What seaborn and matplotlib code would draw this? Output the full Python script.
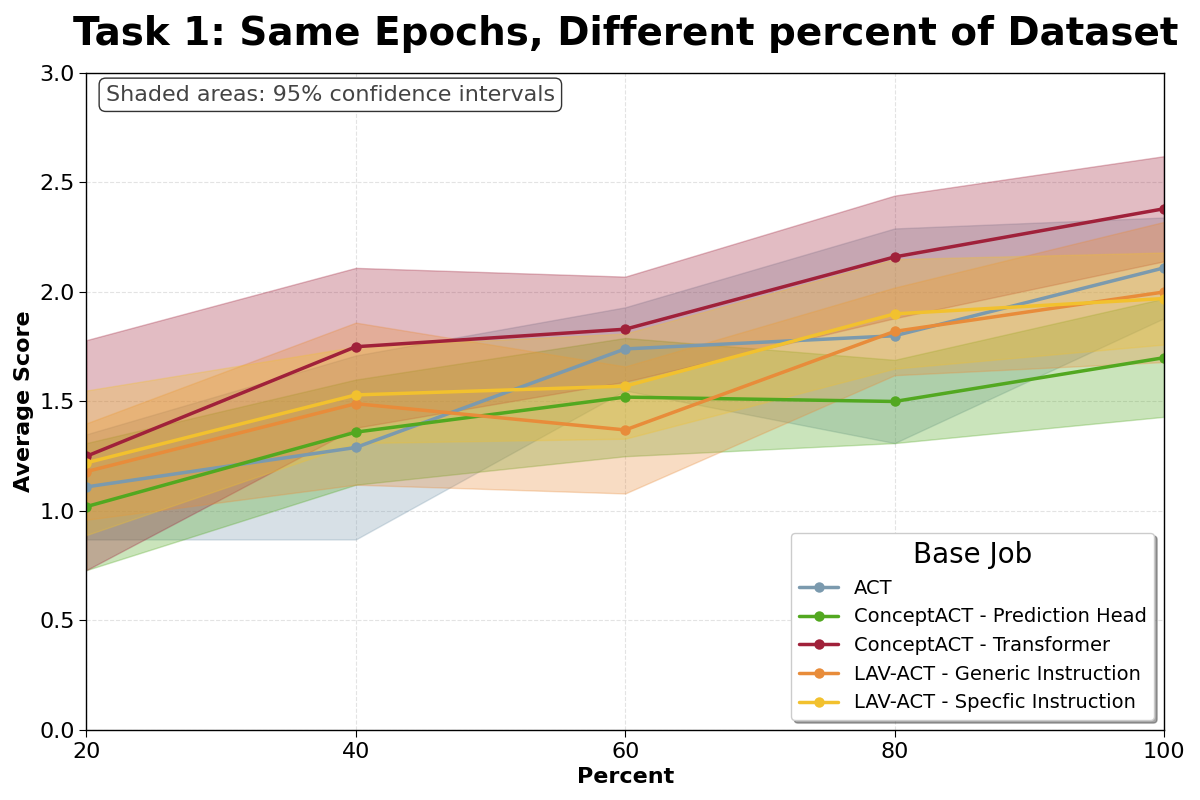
import pandas as pd
import seaborn as sns
import matplotlib.pyplot as plt

percent = [20, 40, 60, 80, 100]
jobs = ["ACT", "ConceptACT - Prediction Head", "ConceptACT - Transformer",
        "LAV-ACT - Generic Instruction", "LAV-ACT - Specfic Instruction"]
colors = ["#7b9aae", "#52a820", "#a0213a", "#e88c3a", "#f2c12e"]

mean = {
    "ACT": [1.11, 1.29, 1.74, 1.80, 2.11],
    "ConceptACT - Prediction Head": [1.02, 1.36, 1.52, 1.50, 1.70],
    "ConceptACT - Transformer": [1.25, 1.75, 1.83, 2.16, 2.38],
    "LAV-ACT - Generic Instruction": [1.18, 1.49, 1.37, 1.82, 2.00],
    "LAV-ACT - Specfic Instruction": [1.22, 1.53, 1.57, 1.90, 1.97],
}
lower = {
    "ACT": [0.87, 0.87, 1.55, 1.31, 1.88],
    "ConceptACT - Prediction Head": [0.73, 1.12, 1.25, 1.31, 1.43],
    "ConceptACT - Transformer": [0.73, 1.38, 1.59, 1.88, 2.14],
    "LAV-ACT - Generic Instruction": [0.96, 1.12, 1.08, 1.62, 1.68],
    "LAV-ACT - Specfic Instruction": [0.89, 1.31, 1.33, 1.65, 1.76],
}
upper = {
    "ACT": [1.35, 1.71, 1.93, 2.29, 2.34],
    "ConceptACT - Prediction Head": [1.31, 1.60, 1.79, 1.69, 1.97],
    "ConceptACT - Transformer": [1.78, 2.11, 2.07, 2.44, 2.62],
    "LAV-ACT - Generic Instruction": [1.40, 1.86, 1.66, 2.02, 2.32],
    "LAV-ACT - Specfic Instruction": [1.55, 1.75, 1.81, 2.15, 2.18],
}

rows = []
for j in jobs:
    for p, m in zip(percent, mean[j]):
        rows.append({"Percent": p, "Average Score": m, "Base Job": j})
df = pd.DataFrame(rows)

sns.set_style("whitegrid")
plt.rcParams["text.color"] = "black"
plt.rcParams["axes.labelcolor"] = "black"
plt.rcParams["xtick.color"] = "black"
plt.rcParams["ytick.color"] = "black"

fig = plt.figure(figsize=(12, 8), dpi=100)
ax = fig.add_axes([0.072, 0.0875, 0.898, 0.8213])

# shaded confidence bands
for j, c in zip(jobs, colors):
    ax.fill_between(percent, lower[j], upper[j], color=c, alpha=0.3,
                    edgecolor=c, linewidth=1)

sns.lineplot(data=df, x="Percent", y="Average Score", hue="Base Job",
             hue_order=jobs, palette=colors, marker="o", markersize=7.5,
             markeredgewidth=0, linewidth=2.5, ax=ax)

ax.set_xlim(20, 100)
ax.set_ylim(0, 3.0)
ax.set_xticks(percent)
ax.set_yticks([0, 0.5, 1.0, 1.5, 2.0, 2.5, 3.0])
ax.tick_params(labelsize=16, length=5, left=True, bottom=True, colors="black")
ax.grid(True, linestyle="--", color="#dddddd", alpha=0.8)
for s in ax.spines.values():
    s.set_color("black")
    s.set_linewidth(1)

ax.set_title("Task 1: Same Epochs, Different percent of Dataset",
             fontsize=28, fontweight="bold", pad=20, color="black")
ax.set_xlabel("Percent", fontsize=16, fontweight="bold", color="black")
ax.set_ylabel("Average Score", fontsize=16, fontweight="bold", color="black")

ax.text(0.018, 0.982, "Shaded areas: 95% confidence intervals",
        transform=ax.transAxes, fontsize=16, color="#444444", va="top",
        bbox=dict(boxstyle="round,pad=0.3", facecolor="white", edgecolor="#333333"))

leg = ax.legend(title="Base Job", loc="lower right", fontsize=14,
                title_fontsize=20, shadow=True, frameon=True, fancybox=True)
leg.get_frame().set_edgecolor("#cccccc")

fig.savefig("out.png", dpi=100)
